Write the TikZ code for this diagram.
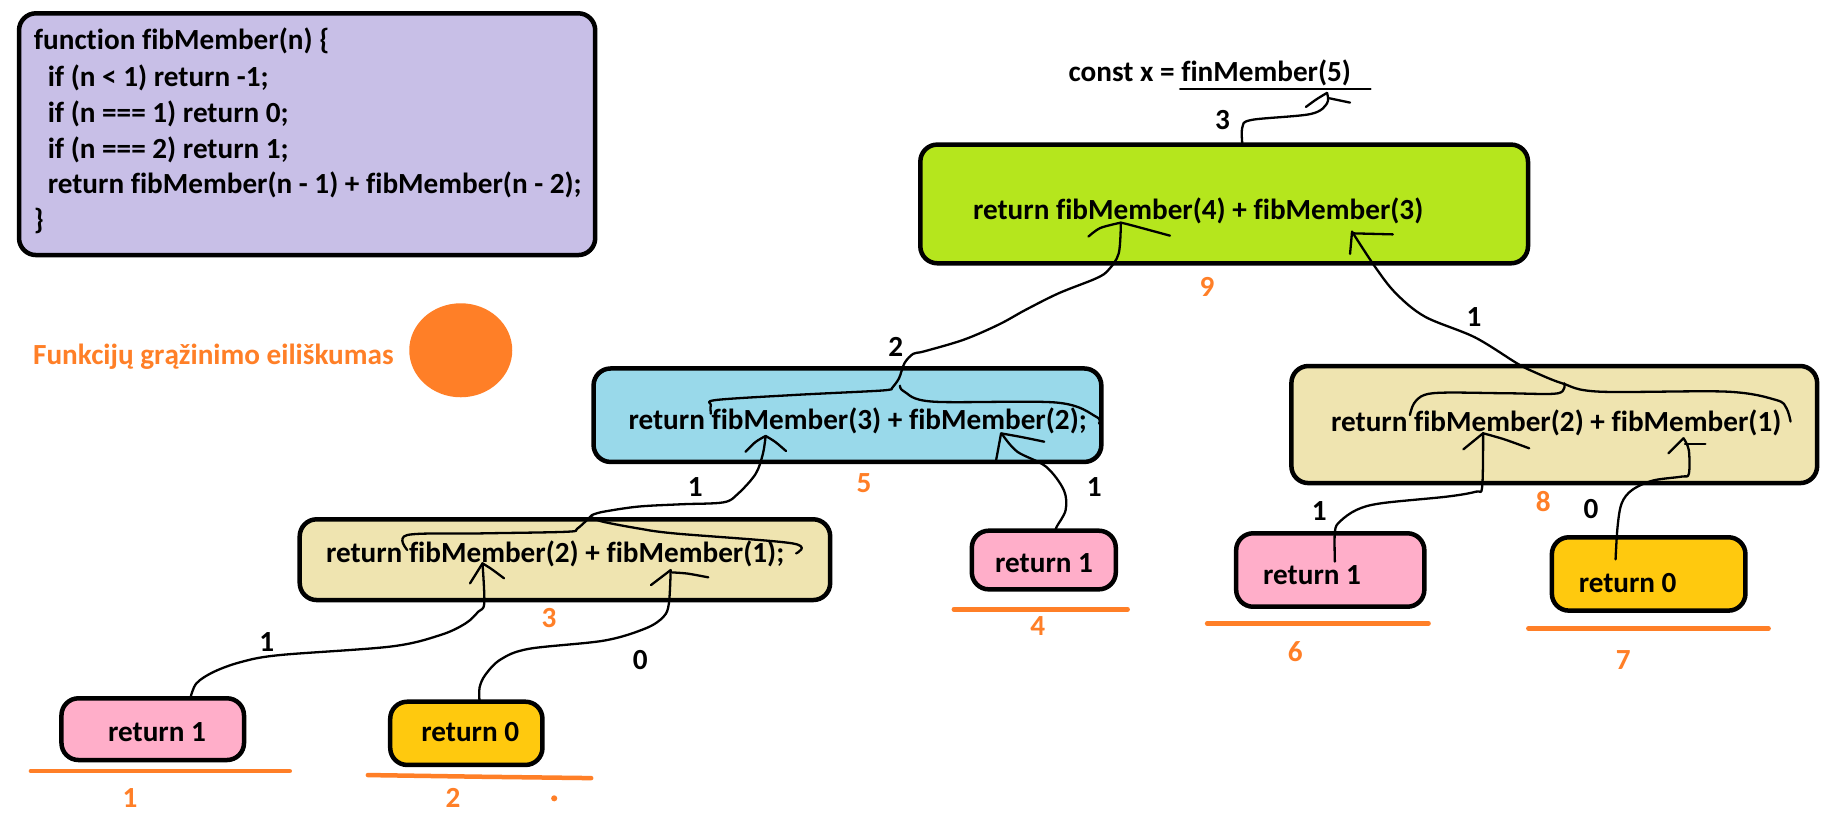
\documentclass[tikz,border=0pt]{standalone}
\usepackage{fontspec}
\setmainfont{Carlito}[Ligatures=NoCommon]
\usetikzlibrary{fit,shapes.geometric}
\definecolor{cLav}{HTML}{C8BFE7}
\definecolor{cLime}{HTML}{B5E61D}
\definecolor{cTurq}{HTML}{99D9EA}
\definecolor{cTan}{HTML}{EFE4B0}
\definecolor{cPink}{HTML}{FFAEC9}
\definecolor{cGold}{HTML}{FFC90E}
\definecolor{cOrange}{HTML}{FF7F27}
\tikzset{
  boxs/.style={draw=black, line width=4.5pt, rounded corners=17pt, inner sep=0pt, outer sep=0pt},
  txt/.style={inner sep=0pt, anchor=base west, font=\fontsize{29.2}{35}\selectfont\bfseries},
  num/.style={inner sep=0pt, font=\fontsize{29.2}{35}\selectfont\bfseries},
  onum/.style={num, text=cOrange},
  conn/.style={line width=2.3pt, line cap=round, line join=round},
  oline/.style={draw=cOrange, line width=4.5pt, line cap=round},
}
\begin{document}
\begin{tikzpicture}[x=1.1754pt, y=-1.1754pt]
\useasboundingbox (0,0) rectangle (1568,700);
\fill[white] (0,0) rectangle (1568,700);
% boxes
\node[boxs, fill=cLav, fit={(16.2,11.3) (506.4,217)}] (code) {};
\node[boxs, fill=cLime, fit={(783,123) (1300,224)}] (green) {};
\node[boxs, fill=cTurq, fit={(505,313.5) (937,393)}] (blue) {};
\node[boxs, fill=cTan, fit={(1098.7,311.4) (1546,411)}] (tanR) {};
\node[boxs, fill=cTan, fit={(255,441.8) (706.3,510.5)}] (tanL) {};
\node[boxs, fill=cPink, fit={(826.8,451.5) (949.3,501.4)}] (pk4) {};
\node[boxs, fill=cPink, fit={(1051.7,453.7) (1211.8,516.2)}] (pk6) {};
\node[boxs, fill=cGold, fit={(1320.3,457.1) (1485,519.5)}] (ye7) {};
\node[boxs, fill=cPink, fit={(52.3,594.1) (207.6,646.6)}] (pk1) {};
\node[boxs, fill=cGold, fit={(332,597) (461.5,650.8)}] (ye2) {};
\node[ellipse, fill=cOrange, inner sep=0pt, minimum width=103pt, minimum height=94pt] (odot) at (392,298) {};
% code text
\node[txt] (c1) at (28.7,42) {function fibMember(n) \{};
\node[txt] (c2) at (40.5,73.5) {if (n < 1) return -1;};
\node[txt] (c3) at (40.5,104) {if (n === 1) return 0;};
\node[txt] (c4) at (40.5,134.5) {if (n === 2) return 1;};
\node[txt] (c5) at (40.5,165) {return fibMember(n - 1) + fibMember(n - 2);};
\node[txt] (c6) at (28.7,195.5) {\}};
\node[txt, text=cOrange] (funk) at (28,310) {Funkcijų grąžinimo eiliškumas};
\node[txt] (cx) at (909,69) {const x = finMember(5)};
\coordinate (ulA) at (1004,76);
\coordinate (ulB) at (1166,76);
\draw[conn] (ulA) -- (ulB);
% box texts
\node[txt] (tG) at (827.7,186.7) {return fibMember(4) + fibMember(3)};
\node[txt] (tB) at (534.6,365.3) {return fibMember(3) + fibMember(2);};
\node[txt] (tR) at (1132.3,366.7) {return fibMember(2) + fibMember(1)};
\node[txt] (tL) at (277.2,478.8) {return fibMember(2) + fibMember(1);};
\node[txt] (t4) at (846.5,486.7) {return 1};
\node[txt] (t6) at (1074.5,497.2) {return 1};
\node[txt] (t7) at (1343,503.7) {return 0};
\node[txt] (t1) at (91.8,630.5) {return 1};
\node[txt] (t2) at (358.3,630.5) {return 0};
% orange underlines
\draw[oline] (26.3,656) -- (246.5,656);
\draw[oline] (313,659.4) -- (407,660.8) -- (503,662);
\draw[oline] (811.5,518.4) -- (959.4,518.4);
\draw[oline] (1027,530.3) -- (1215.4,530.3);
\draw[oline] (1300.3,534.6) -- (1504.7,534.6);
\fill[cOrange] (471.5,679.2) circle[radius=2.6];
% black labels
\node[num] (n3) at (1040,102) {3};
\node[num] (n2) at (762,295) {2};
\node[num] (n1a) at (1254,270) {1};
\node[num] (n1b) at (591.6,414) {1};
\node[num] (n1c) at (931,414) {1};
\node[num] (n1d) at (227,546) {1};
\node[num] (n0a) at (544.7,561.5) {0};
\node[num] (n1e) at (1122.4,435) {1};
\node[num] (n0b) at (1353.5,433.3) {0};
% orange order labels
\node[onum] (o9) at (1027,244) {9};
\node[onum] (o5) at (735,411) {5};
\node[onum] (o8) at (1313,427) {8};
\node[onum] (o3) at (467,526) {3};
\node[onum] (o4) at (883,533) {4};
\node[onum] (o6) at (1102,554.4) {6};
\node[onum] (o7) at (1381,561.5) {7};
\node[onum] (o1) at (110.7,679) {1};
\node[onum] (o2) at (385.5,679) {2};
% connector A: green -> const
\coordinate (gTop) at (1057,123);
\coordinate (tipA) at (1129,79);
\draw[conn] plot[smooth, tension=0.55] coordinates {(gTop) (1057,108.3) (1065,102) (1115,97) (1129,88) (tipA)};
\draw[conn] plot[smooth] coordinates {(1111,91) (1120,84.5) (tipA)};
\draw[conn] (1131,83.6) -- (1148.6,87.3);
% connector B: blue -> green fibMember(4)
\coordinate (tipB) at (953.6,189.4);
\coordinate (jB) at (758.7,330.4);
\draw[conn] plot[smooth, tension=0.55] coordinates {(tipB) (951.8,215.5) (943,229.7) (932.6,236.8) (900.7,249.5) (872.4,263.7) (850,276) (820,289) (786,299) (777,301) (769.5,309) (764.8,322) (jB)};
\draw[conn] plot[smooth, tension=0.55] coordinates {(jB) (749.5,332.3) (676.4,336) (609.3,340.3) (604.8,344.5) (604.8,352)};
\draw[conn] plot[smooth, tension=0.55] coordinates {(765.7,328.1) (769.4,333.2) (793.8,341.7) (899,342.5) (932.5,354.5) (934.9,360.2)};
\draw[conn] plot[smooth] coordinates {(926,201.3) (936,194) (tipB)};
\draw[conn] plot[smooth] coordinates {(tipB) (964,192) (995.4,200.5)};
% connector C: right tan -> green fibMember(3)
\coordinate (tipC) at (1150.3,197.1);
\draw[conn] plot[smooth, tension=0.55] coordinates {(tipC) (1169.8,226.9) (1187.5,249.5) (1212.3,269.4) (1254.8,287) (1290.6,309.1) (1304.6,316.2) (1329.1,326.1) (1360.6,333.2) (1469.1,333.2) (1511.1,340.3) (1519.9,347.3) (1523.4,358.7)};
\draw[conn] plot[smooth, tension=0.55] coordinates {(1330.9,326.1) (1325.6,334.6) (1283.6,334.6) (1231,334) (1211.8,336) (1203,343.2) (1199.5,353.1)};
\draw[conn] (tipC) -- (1148.6,216);
\draw[conn] (1150.3,198.5) -- (1185,199.4);
% right tan fibMember(2) <- pk6
\coordinate (tipR2) at (1261.8,368.6);
\draw[conn] (1245,382.3) -- (tipR2);
\draw[conn] plot[smooth] coordinates {(tipR2) (1279.9,373.8) (1301,381.4)};
\draw[conn] plot[smooth, tension=0.55] coordinates {(tipR2) (1261,414) (1255.6,418.3) (1231.1,422.5) (1174.9,428.2) (1153.9,433.9) (1139.9,443.8) (1135.7,452.3) (1135.7,477.8)};
% right tan fibMember(1) <- ye7
\coordinate (tipR1) at (1432.3,372.9);
\draw[conn] (1419.4,385.7) -- (tipR1);
\draw[conn] (1433.5,377.8) -- (1450.9,377.8);
\draw[conn] plot[smooth, tension=0.55] coordinates {(tipR1) (1436.8,382.8) (1436.8,403.2) (1430.5,405.5) (1406,408.9) (1388.5,416.9) (1379.7,428.2) (1376.2,448.1) (1374.5,475.9)};
% left tan -> blue fibMember(3)
\coordinate (tipB1) at (651.4,370.9);
\coordinate (jL) at (503.5,438.3);
\draw[conn] plot[smooth] coordinates {(634.3,384.3) (642.8,376) (tipB1)};
\draw[conn] plot[smooth] coordinates {(tipB1) (659.5,375.9) (668.8,383.8)};
\draw[conn] plot[smooth, tension=0.55] coordinates {(tipB1) (649,386.3) (642.8,403.3) (627.6,420.3) (615.4,427.4) (580,429) (543,431) (512.7,435.5) (jL)};
\draw[conn] plot[smooth, tension=0.55] coordinates {(jL) (491.3,449.6) (482.1,452.4) (409,453.8) (346.5,455.2) (346.5,467.9)};
\draw[conn] plot[smooth, tension=0.55] coordinates {(503.5,440) (512.7,443.8) (543.2,449.6) (573.7,453.8) (674.2,462.3) (677.3,470.8)};
% pk4 -> blue fibMember(2)
\coordinate (tipB2) at (851.7,368.7);
\draw[conn] (tipB2) -- (847.2,393);
\draw[conn] plot[smooth] coordinates {(tipB2) (870,372) (888.4,375.8)};
\draw[conn] plot[smooth, tension=0.55] coordinates {(853,370) (865.5,384.3) (889.9,397) (905.1,417) (906.6,434) (899,448.1) (898,452)};
% pk1 -> left tan fibMember(2)
\coordinate (tipD1) at (410.5,479.3);
\draw[conn] (399.9,496.3) -- (tipD1);
\draw[conn] plot[smooth] coordinates {(tipD1) (418,484) (428.8,492)};
\draw[conn] plot[smooth, tension=0.55] coordinates {(tipD1) (412,513.3) (406.9,520.4) (396.2,530.3) (374.9,540.2) (333,550) (238.2,557.3) (205.9,563) (182.3,571.4) (167.1,581.4) (162,594)};
% ye2 -> left tan fibMember(1)
\coordinate (tipD2) at (570.6,485);
\draw[conn] (553.8,497.8) -- (tipD2);
\draw[conn] plot[smooth] coordinates {(572,487) (585,488) (602.6,491.2)};
\draw[conn] plot[smooth, tension=0.55] coordinates {(tipD2) (569.1,513.3) (564.5,524.7) (549.3,534.6) (514,545) (450,552) (426,561) (413,574) (408,585) (408,597)};
\end{tikzpicture}
\end{document}
